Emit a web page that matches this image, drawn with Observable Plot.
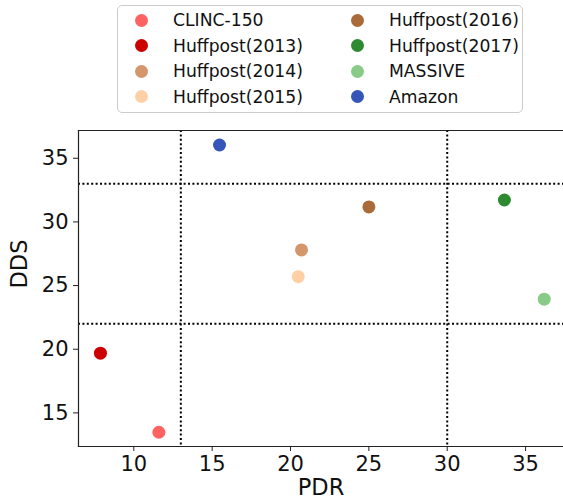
<!DOCTYPE html>
<html>
<head>
<meta charset="utf-8">
<script src="https://cdn.jsdelivr.net/npm/d3@7"></script>
<script src="https://cdn.jsdelivr.net/npm/@observablehq/plot@0.6"></script>
<style>
  html, body { margin: 0; padding: 0; background: #fff; }
  body { width: 563px; height: 504px; overflow: hidden; font-family: "DejaVu Sans", sans-serif; }
  #legend { position: relative; height: 120px; }
  #legend .box { position: absolute; left: 117px; top: 5px; width: 406px; height: 108px;
    border: 1px solid #cccccc; border-radius: 5px; box-sizing: border-box; }
  #legend .item { position: absolute; font-size: 17.2px; line-height: 20px; color: #111; white-space: nowrap; }
  #legend .dot { position: absolute; width: 13px; height: 13px; border-radius: 50%; }
  #chart svg { display: block; }
</style>
</head>
<body>
<div id="legend"><div class="box"></div></div>
<div id="chart"></div>
<script>
const names = ["CLINC-150", "Huffpost(2013)", "Huffpost(2014)", "Huffpost(2015)", "Huffpost(2016)", "Huffpost(2017)", "MASSIVE", "Amazon"];
const pdr = [11.6, 7.87, 20.7, 20.49, 25.0, 33.65, 36.19, 15.47];
const dds = [13.48, 19.69, 27.8, 25.7, 31.18, 31.72, 23.93, 36.04];
const colors = ["#ff6262", "#cc0000", "#d4966a", "#ffd0a6", "#a96b3a", "#2e8a30", "#88cb86", "#3555b8"];
const xTicks = [10, 15, 20, 25, 30, 35];
const yTicks = [15, 20, 25, 30, 35];
const vLines = [13, 30];
const hLines = [33, 22];

const data = names.map((n, i) => ({name: n, pdr: pdr[i], dds: dds[i]}));

// legend (two columns of four)
const legend = document.getElementById("legend");
names.forEach((n, i) => {
  const col = Math.floor(i / 4), row = i % 4;
  const cx = col === 0 ? 141 : 357;
  const cy = 20 + row * 25.5;
  const dot = document.createElement("div");
  dot.className = "dot";
  dot.style.left = (cx - 6.5) + "px";
  dot.style.top = (cy - 6.5) + "px";
  dot.style.background = colors[i];
  legend.appendChild(dot);
  const t = document.createElement("div");
  t.className = "item";
  t.textContent = n;
  t.style.left = (cx + 32) + "px";
  t.style.top = (cy - 10) + "px";
  legend.appendChild(t);
});

const dotted = {stroke: "black", strokeWidth: 2, strokeDasharray: "2,2.4"};

const chart = Plot.plot({
  width: 563,
  height: 384,
  marginLeft: 78,
  marginRight: 0,
  marginTop: 10,
  marginBottom: 58,
  style: {fontFamily: "DejaVu Sans, sans-serif", background: "white", overflow: "visible"},
  x: {domain: [6.47, 37.42], ticks: xTicks},
  y: {domain: [12.36, 37.18], ticks: yTicks},
  color: {domain: names, range: colors},
  marks: [
    Plot.ruleX(vLines, dotted),
    Plot.ruleY(hLines, dotted),
    Plot.dot(data, {x: "pdr", y: "dds", fill: "name", r: 6.5, stroke: "none"}),
    Plot.frame({anchor: "left", stroke: "#222", strokeWidth: 1.2}),
    Plot.frame({anchor: "bottom", stroke: "#222", strokeWidth: 1.2}),
    Plot.frame({anchor: "top", stroke: "#222", strokeWidth: 1.2}),
    Plot.axisX({ticks: xTicks, tickSize: 5, tickPadding: 5, fontSize: 21, label: null, stroke: "#222", fill: "#111"}),
    Plot.axisY({ticks: yTicks, tickSize: 5, tickPadding: 5, fontSize: 21, label: null, stroke: "#222", fill: "#111"}),
    Plot.text(["PDR"], {frameAnchor: "bottom", dy: 48, fontSize: 22.5, fill: "#111"}),
    Plot.text(["DDS"], {frameAnchor: "left", dx: -59, rotate: -90, fontSize: 22.5, fill: "#111"})
  ]
});
document.getElementById("chart").appendChild(chart);
</script>
</body>
</html>
